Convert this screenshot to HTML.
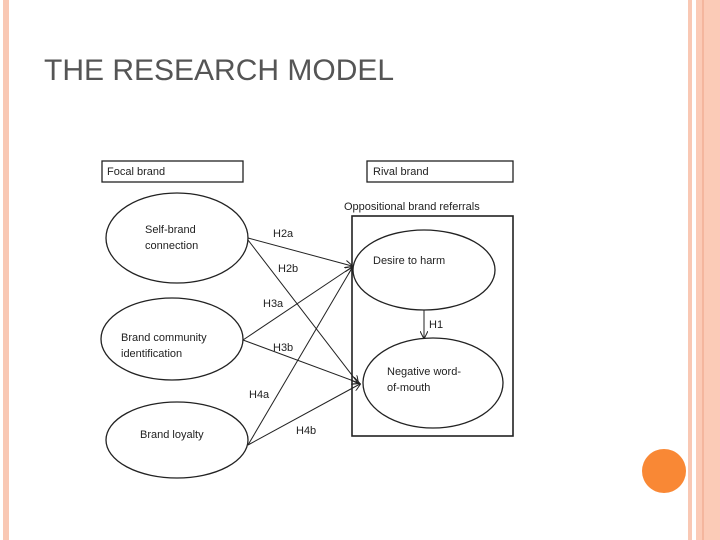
<!DOCTYPE html>
<html><head><style>
body{margin:0;width:720px;height:540px;background:#fff;overflow:hidden;position:relative;font-family:"Liberation Sans",sans-serif}
</style></head><body>
<div style="position:absolute;left:3px;top:0;width:6px;height:540px;background:#f9c8b4"></div>
<div style="position:absolute;left:688px;top:0;width:4px;height:540px;background:#f9c8b4"></div>
<div style="position:absolute;left:696px;top:0;width:24px;height:540px;background:#fbcbb7"></div>
<div style="position:absolute;left:702px;top:0;width:2px;height:540px;background:#f4b69e"></div>
<div style="position:absolute;left:642px;top:449px;width:44px;height:44px;border-radius:50%;background:#f98835"></div>
<div style="position:absolute;left:44px;top:54px;font-size:30px;color:#555">THE RESEARCH MODEL</div>
<svg width="720" height="540" style="position:absolute;left:0;top:0" font-family="Liberation Sans, sans-serif" font-size="11" fill="#222">
<defs><marker id="a" markerWidth="8" markerHeight="8" refX="7" refY="4" orient="auto" markerUnits="userSpaceOnUse"><path d="M0,0 L8,4 L0,8" fill="none" stroke="#222" stroke-width="1"/></marker></defs>
<g stroke="#222" stroke-width="1.3" fill="none">
<rect x="102" y="161" width="141" height="21"/>
<rect x="367" y="161" width="146" height="21"/>
<rect x="352" y="216" width="161" height="220" stroke-width="1.6"/>
<ellipse cx="177" cy="238" rx="71" ry="45"/>
<ellipse cx="172" cy="339" rx="71" ry="41"/>
<ellipse cx="177" cy="440" rx="71" ry="38"/>
<ellipse cx="424" cy="270" rx="71" ry="40"/>
<ellipse cx="433" cy="383" rx="70" ry="45"/>
</g>
<g stroke="#222" stroke-width="1" marker-end="url(#a)">
<line x1="248" y1="238" x2="352" y2="266"/>
<line x1="248" y1="240" x2="358" y2="383"/>
<line x1="243" y1="340" x2="352" y2="267"/>
<line x1="243" y1="340" x2="359" y2="383"/>
<line x1="248" y1="445" x2="352" y2="268"/>
<line x1="248" y1="445" x2="360" y2="384"/>
<line x1="424" y1="310" x2="424" y2="338"/>
</g>
<text x="107" y="175">Focal brand</text>
<text x="373" y="175">Rival brand</text>
<text x="344" y="210">Oppositional brand referrals</text>
<text x="145" y="233">Self-brand</text>
<text x="145" y="249">connection</text>
<text x="121" y="341">Brand community</text>
<text x="121" y="357">identification</text>
<text x="140" y="438">Brand loyalty</text>
<text x="373" y="264">Desire to harm</text>
<text x="387" y="375">Negative word-</text>
<text x="387" y="391">of-mouth</text>
<text x="273" y="237">H2a</text>
<text x="278" y="272">H2b</text>
<text x="263" y="307">H3a</text>
<text x="273" y="351">H3b</text>
<text x="249" y="398">H4a</text>
<text x="296" y="434">H4b</text>
<text x="429" y="328">H1</text>
</svg>
</body></html>
